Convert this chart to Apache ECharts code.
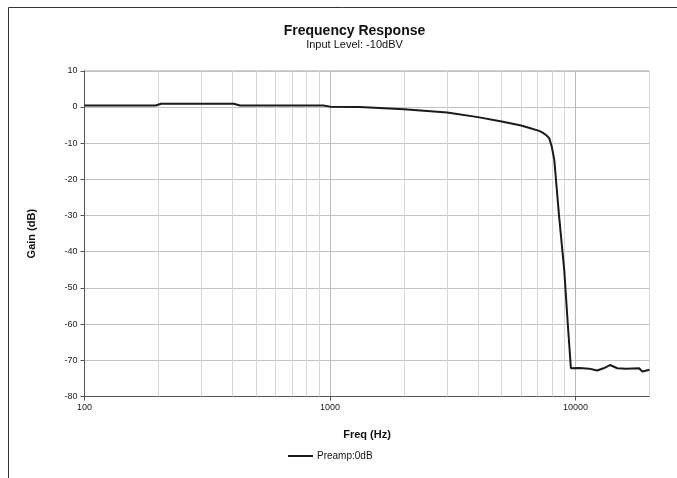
<!DOCTYPE html>
<html>
<head>
<meta charset="utf-8">
<script src="https://cdn.jsdelivr.net/npm/echarts@6/dist/echarts.min.js"></script>
<style>
html,body{margin:0;padding:0;background:#fff;}
#chart{width:677px;height:478px;}
</style>
</head>
<body>
<div id="chart"></div>
<script>
// ---- data ----
var freq = [100, 195, 205, 405, 430, 940, 1000, 1320, 2000, 3000, 4000, 5000, 6000, 6500, 7100, 7340, 7600, 7810, 8000, 8190, 8570, 8990, 9270, 9570, 10340, 11360, 12240, 13000, 13800, 14800, 16000, 18130, 18710, 20000];
var gain = [0.4, 0.4, 0.9, 0.9, 0.4, 0.4, 0.1, 0.0, -0.6, -1.5, -2.8, -4.0, -5.1, -5.8, -6.6, -7.1, -7.8, -8.6, -11.0, -14.6, -30.3, -45.0, -58.8, -72.2, -72.1, -72.3, -72.8, -72.2, -71.3, -72.2, -72.3, -72.2, -73.1, -72.6];
var seriesName = 'Preamp:0dB';
var xTickLabels = [100, 1000, 10000];
var minorGridFreqs = [200, 300, 400, 500, 600, 700, 800, 900, 2000, 3000, 4000, 5000, 6000, 7000, 8000, 9000, 20000];
var titleText = 'Frequency Response';
var subtitleText = 'Input Level: -10dBV';
var xName = 'Freq (Hz)';
var yName = 'Gain (dB)';

var points = freq.map(function (f, i) { return [f, gain[i]]; });

var chart = echarts.init(document.getElementById('chart'), null, {renderer: 'canvas'});
var font = 'Liberation Sans, Arial, sans-serif';

chart.setOption({
  animation: false,
  backgroundColor: '#fff',
  textStyle: {fontFamily: font},
  graphic: [
    {type: 'line', shape: {x1: 8.5, y1: 7.5, x2: 677, y2: 7.5}, style: {stroke: '#333', lineWidth: 1}, silent: true},
    {type: 'line', shape: {x1: 8.5, y1: 7.5, x2: 8.5, y2: 478}, style: {stroke: '#333', lineWidth: 1}, silent: true},
    {type: 'text', x: 354.5, y: 31, style: {text: titleText, font: 'bold 14px ' + font, fill: '#111', textAlign: 'center', textVerticalAlign: 'middle'}, silent: true},
    {type: 'text', x: 354.5, y: 45, style: {text: subtitleText, font: '11px ' + font, fill: '#111', textAlign: 'center', textVerticalAlign: 'middle'}, silent: true}
  ],
  grid: {
    left: 84.5, right: 27.5, top: 70.8, bottom: 81.5,
    show: true, borderColor: '#bdbdbd', borderWidth: 1, containLabel: false
  },
  legend: {
    data: [{name: seriesName, icon: 'rect'}],
    left: 288, top: 451,
    itemWidth: 25, itemHeight: 2, itemGap: 4,
    itemStyle: {color: '#1a1a1a'},
    textStyle: {fontSize: 10, color: '#111', fontFamily: font, padding: [0, 0, 0, -1]},
    padding: 0
  },
  xAxis: {
    type: 'log', logBase: 10, min: 100, max: 20000,
    name: xName, nameLocation: 'middle', nameGap: 33,
    nameTextStyle: {fontSize: 11, fontWeight: 'bold', color: '#111', fontFamily: font},
    axisLine: {show: true, onZero: false, lineStyle: {color: '#555', width: 1}},
    axisTick: {show: true, length: 4, customValues: xTickLabels, lineStyle: {color: '#555'}},
    axisLabel: {
      fontSize: 9, color: '#222', margin: 7, fontFamily: font,
      customValues: xTickLabels,
      formatter: function (v) {
        var r = Math.round(v);
        return xTickLabels.indexOf(r) >= 0 ? String(r) : '';
      }
    },
    splitLine: {show: true, lineStyle: {color: '#b9b9b9', width: 1}},
    minorTick: {show: false},
    minorSplitLine: {show: false}
  },
  yAxis: {
    type: 'value', min: -80, max: 10, interval: 10,
    name: yName, nameLocation: 'middle', nameGap: 47, nameRotate: 90,
    nameTextStyle: {fontSize: 11, fontWeight: 'bold', color: '#111', fontFamily: font},
    axisLine: {show: true, onZero: false, lineStyle: {color: '#555', width: 1}},
    axisTick: {show: true, length: 4, inside: false, lineStyle: {color: '#555'}},
    axisLabel: {fontSize: 9, color: '#222', margin: 7, fontFamily: font},
    splitLine: {show: true, lineStyle: {color: '#c2c2c2', width: 1}}
  },
  series: [{
    name: seriesName,
    type: 'line',
    data: points,
    showSymbol: false,
    symbol: 'none',
    smooth: false,
    lineStyle: {color: '#1a1a1a', width: 2},
    itemStyle: {color: '#1a1a1a'},
    z: 5,
    markLine: {
      silent: true,
      symbol: ['none', 'none'],
      label: {show: false},
      lineStyle: {color: '#d6d6d6', width: 1, type: 'solid'},
      data: minorGridFreqs.map(function (f) { return {xAxis: f}; }),
      z: 1
    }
  }]
});
</script>
</body>
</html>
